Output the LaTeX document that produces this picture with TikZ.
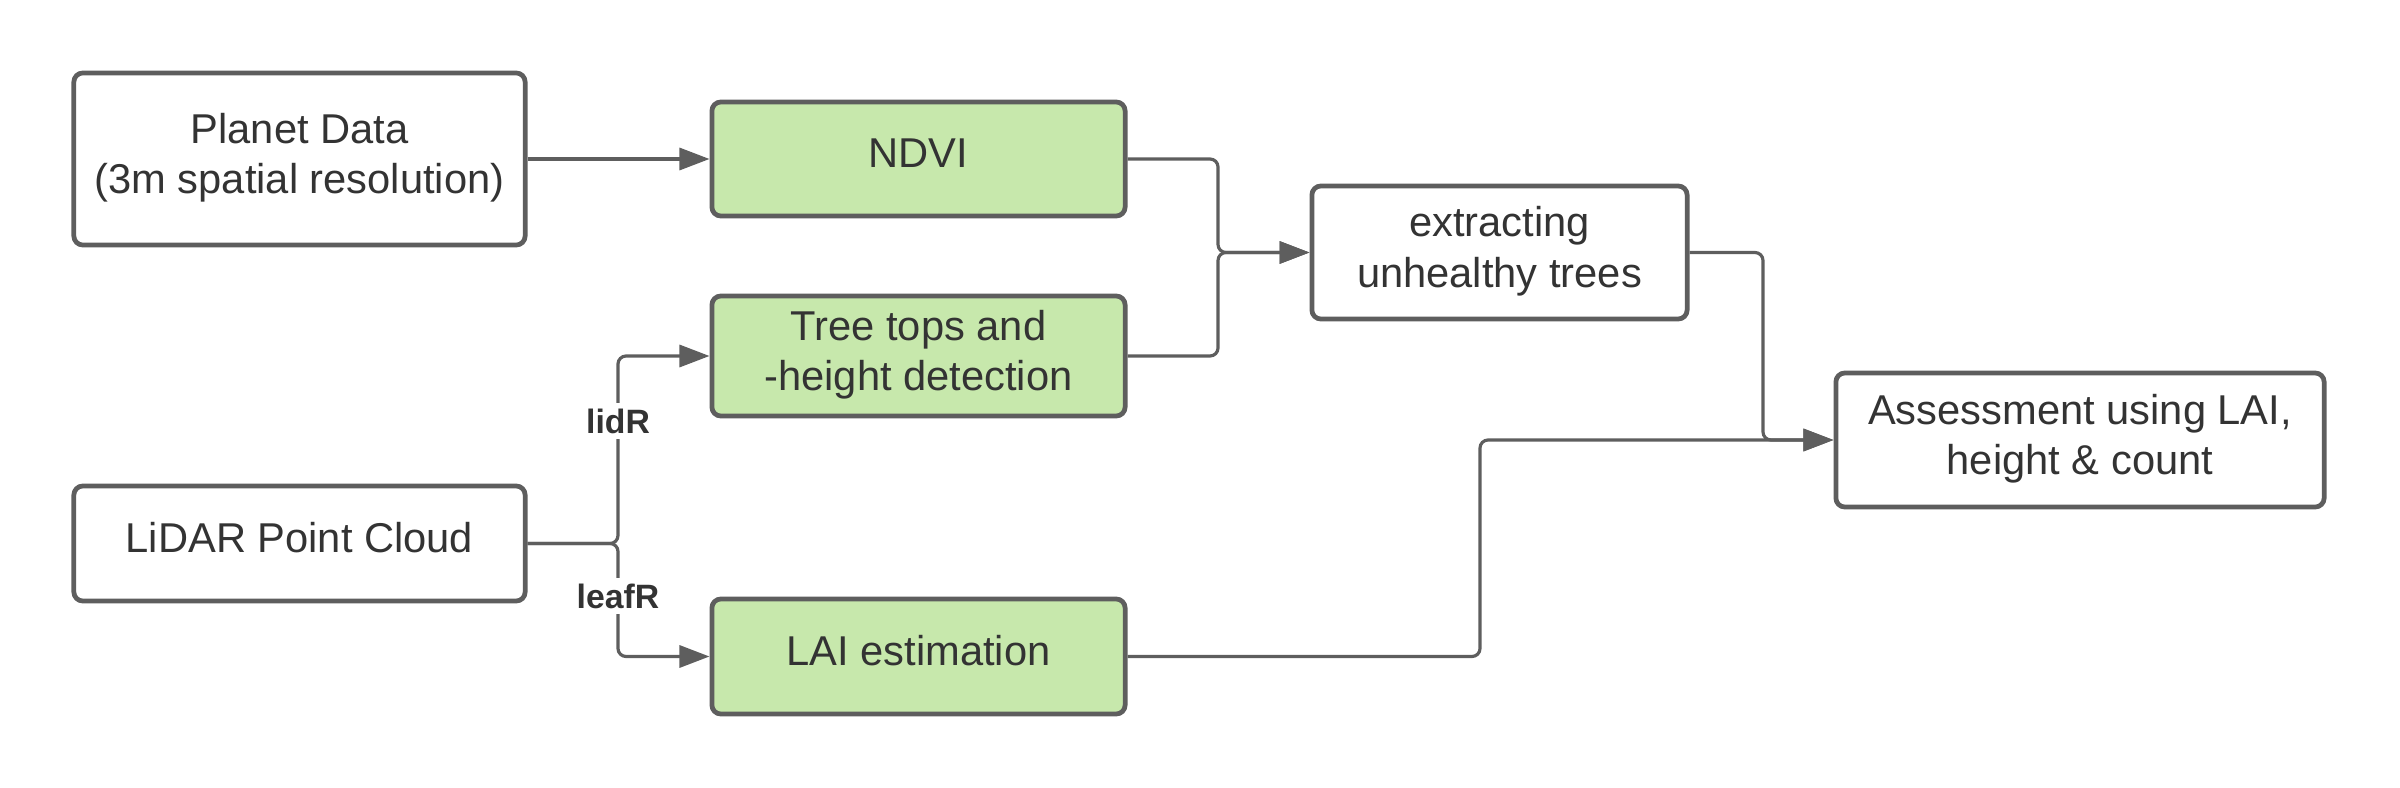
\documentclass[tikz,border=0pt]{standalone}
\usepackage{fontspec}
\setmainfont{Liberation Sans}
\usetikzlibrary{arrows.meta}
\definecolor{boxline}{HTML}{5E5E5E}
\definecolor{greenfill}{HTML}{C7E8AC}
\definecolor{txt}{HTML}{333333}
\begin{document}
\begin{tikzpicture}[x=0.01cm,y=-0.01cm,
  box/.style={draw=boxline,line width=1.35pt,rounded corners=0.09cm,fill=white,
    align=center,text=txt,font=\fontsize{11.85}{14.3}\selectfont,inner sep=0pt,
    execute at end node={\rule[-3.2pt]{0pt}{0pt}}},
  gbox/.style={box,fill=greenfill},
  conn/.style={draw=boxline,line width=0.9pt,rounded corners=0.08cm,
    -{Triangle[length=0.3cm,width=0.22cm]}},
  lbl/.style={fill=white,text=txt,font=\fontsize{9.6}{10.5}\selectfont\bfseries,inner sep=1.5pt}]
\useasboundingbox (0,0) rectangle (2400,788);
\node[box,minimum width=4.51cm,minimum height=1.72cm] (planet) at (299.5,159) {Planet Data\\(3m spatial resolution)};
\node[gbox,minimum width=4.13cm,minimum height=1.14cm] (ndvi) at (918.5,159) {NDVI};
\node[gbox,minimum width=4.13cm,minimum height=1.20cm] (tree) at (918.5,356) {Tree tops and\\-height detection};
\node[box,minimum width=4.51cm,minimum height=1.15cm] (lidar) at (299.5,543.5) {LiDAR Point Cloud};
\node[gbox,minimum width=4.13cm,minimum height=1.15cm] (lai) at (918.5,656.5) {LAI estimation};
\node[box,minimum width=3.75cm,minimum height=1.33cm] (ext) at (1499.5,252.5) {extracting\\unhealthy trees};
\node[box,minimum width=4.88cm,minimum height=1.34cm] (ass) at (2080,440) {Assessment using LAI,\\height \& count};
\coordinate (m1) at (1218,252.5);
\coordinate (m2) at (1763,440);
\coordinate (m3) at (1480,440);
\coordinate (b1) at (618,356);
\coordinate (b2) at (618,656.5);
\draw[conn] (planet.east |- ndvi.west) -- (ndvi.west);
\draw[conn] (ndvi.east) -| (m1) -- (ext.west);
\draw[conn] (tree.east) -| (m1) -- (ext.west);
\draw[conn] (ext.east) -| (m2) -- (ass.west);
\draw[conn] (lai.east) -| (m3) -- (ass.west);
\draw[conn] (lidar.east) -| (b1) -- (tree.west);
\draw[conn] (lidar.east) -| (b2) -- (lai.west);
\node[lbl] (l1) at (618,421) {lidR};
\node[lbl] (l2) at (618,596) {leafR};
\end{tikzpicture}
\end{document}
